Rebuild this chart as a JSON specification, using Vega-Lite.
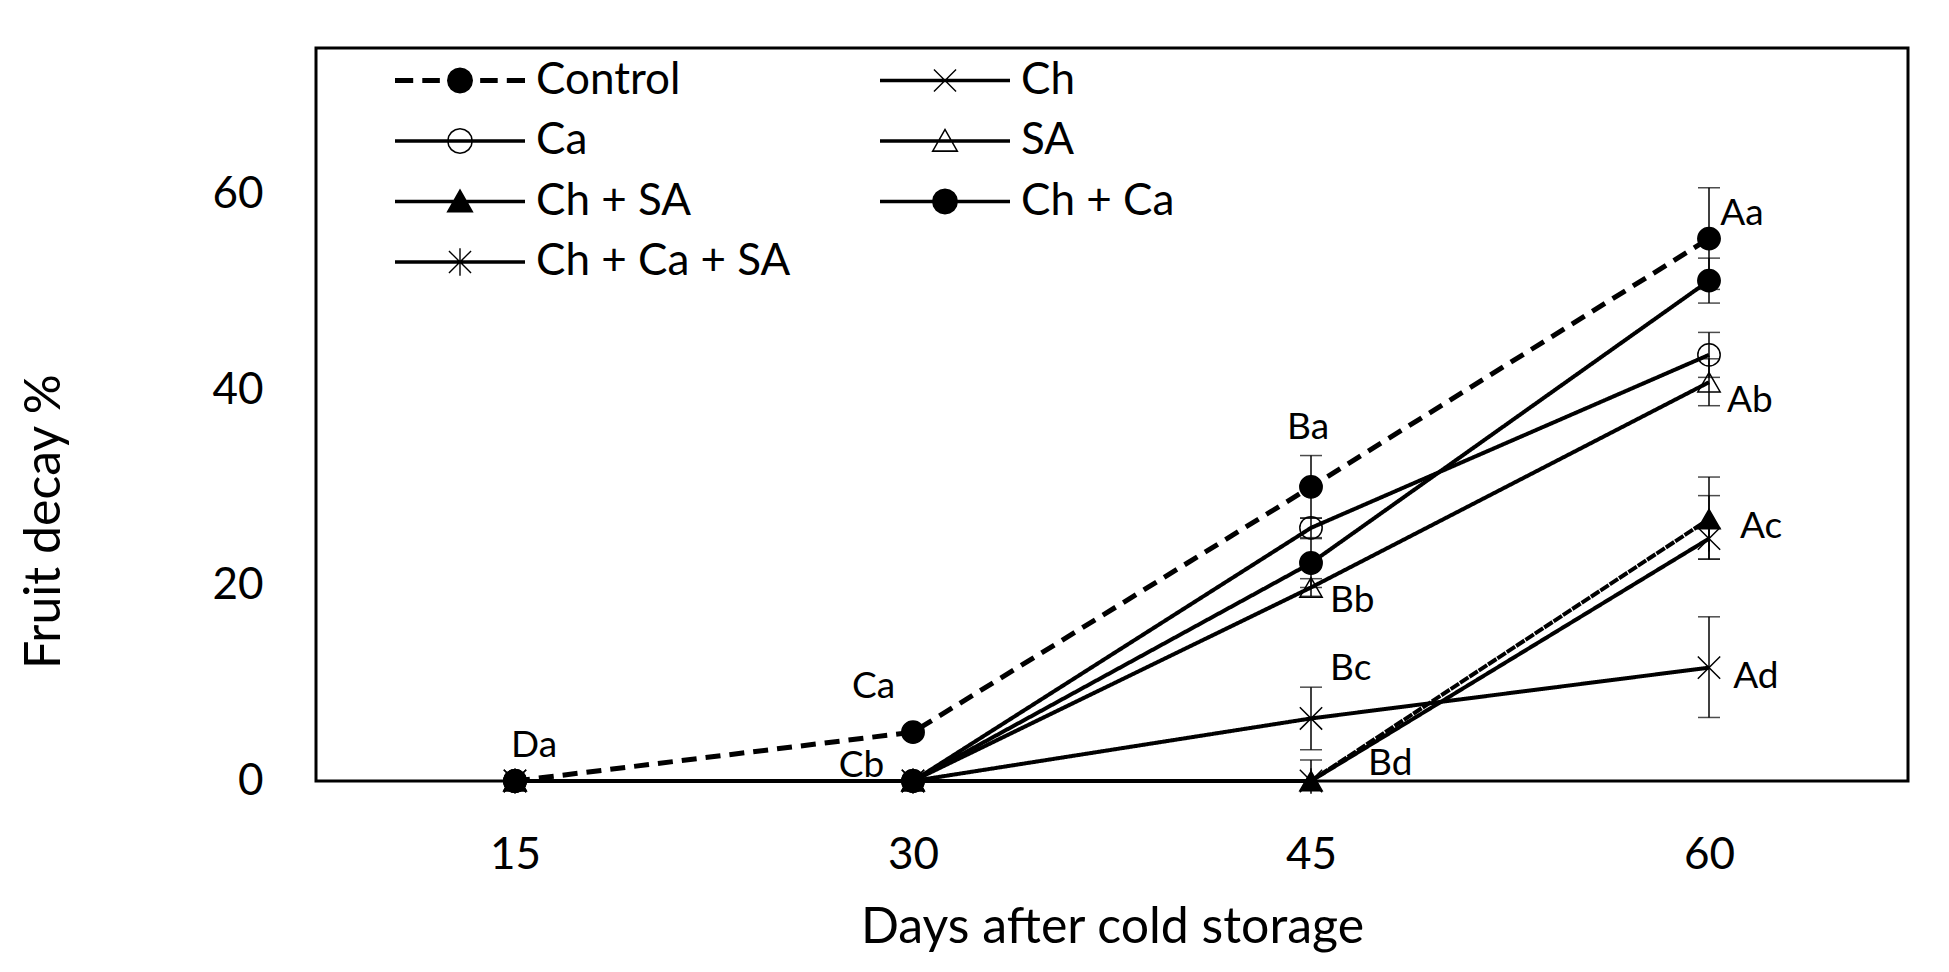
{
  "$schema": "https://vega.github.io/schema/vega-lite/v6.json",
  "width": 1592,
  "height": 733,
  "autosize": {"type": "none"},
  "padding": {"left": 316, "top": 48, "right": 41, "bottom": 191},
  "background": "white",
  "config": {
    "view": {"stroke": "black", "strokeWidth": 3},
    "font": "Lato",
    "axis": {
      "labelFont": "Lato", "titleFont": "Lato", "labelColor": "black", "titleColor": "black",
      "titleFontWeight": "normal", "grid": false, "domain": false, "ticks": false, "tickSize": 0
    }
  },
  "datasets": {
    "decay": [
      {"series": "Control", "day": 15, "value": 0},
      {"series": "Control", "day": 30, "value": 5.0},
      {"series": "Control", "day": 45, "value": 30.1, "lower": 26.9, "upper": 33.3},
      {"series": "Control", "day": 60, "value": 55.5, "lower": 50.3, "upper": 60.7},
      {"series": "Ch", "day": 15, "value": 0},
      {"series": "Ch", "day": 30, "value": 0},
      {"series": "Ch", "day": 45, "value": 6.4, "lower": 3.2, "upper": 9.6},
      {"series": "Ch", "day": 60, "value": 11.6, "lower": 6.5, "upper": 16.8},
      {"series": "Ca", "day": 15, "value": 0},
      {"series": "Ca", "day": 30, "value": 0},
      {"series": "Ca", "day": 45, "value": 25.9, "lower": 24.9, "upper": 26.9},
      {"series": "Ca", "day": 60, "value": 43.6, "lower": 41.3, "upper": 45.9},
      {"series": "SA", "day": 15, "value": 0},
      {"series": "SA", "day": 30, "value": 0},
      {"series": "SA", "day": 45, "value": 19.8, "lower": 18.9, "upper": 20.7},
      {"series": "SA", "day": 60, "value": 40.8, "lower": 38.4, "upper": 43.2},
      {"series": "Ch + SA", "day": 15, "value": 0},
      {"series": "Ch + SA", "day": 30, "value": 0},
      {"series": "Ch + SA", "day": 45, "value": 0, "lower": 0, "upper": 2.15},
      {"series": "Ch + SA", "day": 60, "value": 26.8, "lower": 22.7, "upper": 31.1},
      {"series": "Ch + Ca", "day": 15, "value": 0},
      {"series": "Ch + Ca", "day": 30, "value": 0},
      {"series": "Ch + Ca", "day": 45, "value": 22.3, "lower": 19.8, "upper": 24.8},
      {"series": "Ch + Ca", "day": 60, "value": 51.2, "lower": 48.9, "upper": 53.5},
      {"series": "Ch + Ca + SA", "day": 15, "value": 0},
      {"series": "Ch + Ca + SA", "day": 30, "value": 0},
      {"series": "Ch + Ca + SA", "day": 45, "value": 0},
      {"series": "Ch + Ca + SA", "day": 60, "value": 24.8, "lower": 22.7, "upper": 29.2}
    ],
    "letters": [
      {"label": "Da", "day": 14.85, "value": 2.46},
      {"label": "Ca", "day": 27.7, "value": 8.5},
      {"label": "Cb", "day": 27.2, "value": 0.41},
      {"label": "Ba", "day": 44.1, "value": 35.0},
      {"label": "Bb", "day": 45.72, "value": 17.3},
      {"label": "Bc", "day": 45.72, "value": 10.3},
      {"label": "Bd", "day": 47.15, "value": 0.6},
      {"label": "Aa", "day": 60.42, "value": 56.9},
      {"label": "Ab", "day": 60.68, "value": 37.8},
      {"label": "Ac", "day": 61.17, "value": 24.9},
      {"label": "Ad", "day": 60.91, "value": 9.5}
    ]
  },
  "data": {"name": "decay"},
  "encoding": {
    "x": {
      "field": "day", "type": "quantitative",
      "scale": {"domain": [7.5, 67.5], "nice": false, "zero": false},
      "axis": {
        "title": "Days after cold storage", "values": [15, 30, 45, 60],
        "labelFontSize": 44, "labelPadding": 52, "titleFontSize": 50,
        "titleY": 161, "titleBaseline": "alphabetic"
      }
    },
    "y": {
      "field": "value", "type": "quantitative",
      "scale": {"domain": [0, 75], "nice": false},
      "axis": {
        "title": "Fruit decay %", "values": [0, 20, 40, 60],
        "labelFontSize": 44, "labelPadding": 53, "titleFontSize": 50,
        "titleX": -272, "titleY": 473, "titleAngle": 270,
        "titleBaseline": "middle", "titleAlign": "center"
      }
    }
  },
  "layer": [
    {
      "transform": [{"filter": "isValid(datum.upper)"}],
      "mark": {"type": "rule", "color": "black", "strokeWidth": 1.5},
      "encoding": {
        "y": {"field": "lower", "type": "quantitative", "title": "Fruit decay %"},
        "y2": {"field": "upper"}
      }
    },
    {
      "transform": [
        {"filter": "isValid(datum.upper)"},
        {"fold": ["lower", "upper"], "as": ["end", "bound"]}
      ],
      "mark": {"type": "tick", "orient": "horizontal", "size": 22, "thickness": 1.5, "color": "black"},
      "encoding": {
        "y": {"field": "bound", "type": "quantitative", "title": "Fruit decay %"}
      }
    },
    {
      "transform": [{"filter": "datum.series !== 'Control'"}],
      "mark": {"type": "line", "color": "black", "strokeWidth": 4, "strokeCap": "butt"},
      "encoding": {
        "detail": {"field": "series"},
        "strokeDash": {
          "field": "series", "type": "nominal",
          "scale": {
            "domain": ["Ch", "Ca", "SA", "Ch + SA", "Ch + Ca", "Ch + Ca + SA"],
            "range": [[1, 0], [1, 0], [1, 0], [10, 1.2], [1, 0], [1, 0]]
          },
          "legend": null
        }
      }
    },
    {
      "transform": [{"filter": "datum.series === 'Control'"}],
      "mark": {"type": "line", "color": "black", "strokeWidth": 5, "strokeDash": [15, 9]},
      "encoding": {}
    },
    {
      "mark": {"type": "point", "size": 500, "strokeWidth": 1.5, "stroke": "black", "opacity": 1},
      "encoding": {
        "shape": {
          "field": "series", "type": "nominal",
          "scale": {
            "domain": ["Control", "Ca", "Ch + SA", "Ch + Ca + SA", "Ch", "SA", "Ch + Ca"],
            "range": ["circle", "circle", "triangle-up", "M-1,-1L1,1M-1,1L1,-1M0,-1.15L0,1.15", "M-1,-1L1,1M-1,1L1,-1", "triangle-up", "circle"]
          },
          "legend": null
        },
        "fill": {
          "field": "series", "type": "nominal",
          "scale": {
            "domain": ["Control", "Ca", "Ch + SA", "Ch + Ca + SA", "Ch", "SA", "Ch + Ca"],
            "range": ["black", "transparent", "black", "transparent", "transparent", "transparent", "black"]
          },
          "legend": null
        }
      }
    },
    {
      "transform": [{"filter": "false"}],
      "mark": {"type": "point", "filled": true, "fill": "black", "strokeWidth": 0, "opacity": 1},
      "encoding": {
        "shape": {
          "field": "series", "type": "nominal",
          "scale": {
            "domain": ["Control", "Ca", "Ch + SA", "Ch + Ca + SA", "Ch", "SA", "Ch + Ca"],
            "range": [
              "M-5,-0.19L-3.6,-0.19L-3.6,0.19L-5,0.19ZM-2.9,-0.19L-1.55,-0.19L-1.55,0.19L-2.9,0.19ZM1.55,-0.19L2.9,-0.19L2.9,0.19L1.55,0.19ZM3.6,-0.19L5,-0.19L5,0.19L3.6,0.19ZM1,0L0.924,0.383L0.707,0.707L0.383,0.924L0,1L-0.383,0.924L-0.707,0.707L-0.924,0.383L-1,0L-0.924,-0.383L-0.707,-0.707L-0.383,-0.924L0,-1L0.383,-0.924L0.707,-0.707L0.924,-0.383Z",
              "M-5,-0.13L5,-0.13L5,0.13L-5,0.13ZM1,0L0.924,0.383L0.707,0.707L0.383,0.924L0,1L-0.383,0.924L-0.707,0.707L-0.924,0.383L-1,0L-0.924,-0.383L-0.707,-0.707L-0.383,-0.924L0,-1L0.383,-0.924L0.707,-0.707L0.924,-0.383ZM0.88,0L0.813,-0.337L0.622,-0.622L0.337,-0.813L0,-0.88L-0.337,-0.813L-0.622,-0.622L-0.813,-0.337L-0.88,0L-0.813,0.337L-0.622,0.622L-0.337,0.813L0,0.88L0.337,0.813L0.622,0.622L0.813,0.337Z",
              "M-5,-0.13L5,-0.13L5,0.13L-5,0.13ZM0,-1L1.05,0.84L-1.05,0.84Z",
              "M-5,-0.13L5,-0.13L5,0.13L-5,0.13ZM-0.812,-0.888L0.888,0.812L0.812,0.888L-0.888,-0.812ZM-0.888,0.812L0.812,-0.888L0.888,-0.812L-0.812,0.888ZM-0.054,-1.05L0.054,-1.05L0.054,1.05L-0.054,1.05Z",
              "M-5,-0.13L5,-0.13L5,0.13L-5,0.13ZM-0.812,-0.888L0.888,0.812L0.812,0.888L-0.888,-0.812ZM-0.888,0.812L0.812,-0.888L0.888,-0.812L-0.812,0.888Z",
              "M-5,-0.13L5,-0.13L5,0.13L-5,0.13ZM0,-1L1.05,0.84L-1.05,0.84ZM0,-0.76L-0.843,0.719L0.843,0.719Z",
              "M-5,-0.13L5,-0.13L5,0.13L-5,0.13ZM1,0L0.924,0.383L0.707,0.707L0.383,0.924L0,1L-0.383,0.924L-0.707,0.707L-0.924,0.383L-1,0L-0.924,-0.383L-0.707,-0.707L-0.383,-0.924L0,-1L0.383,-0.924L0.707,-0.707L0.924,-0.383Z"
            ]
          },
          "legend": {
            "title": null, "orient": "none", "legendX": 79, "legendY": 10.5,
            "direction": "vertical", "columns": 2, "padding": 0,
            "symbolSize": 676, "symbolStrokeWidth": 0, "symbolOffset": 43, "symbolOpacity": 1,
            "symbolFillColor": "black",
            "labelOffset": 54, "labelLimit": 500, "rowPadding": 16.5, "columnPadding": 89,
            "labelFont": "Lato", "labelFontSize": 44, "labelColor": "black", "labelBaseline": "middle"
          }
        }
      }
    },
    {
      "data": {"name": "letters"},
      "mark": {"type": "text", "align": "left", "baseline": "alphabetic", "font": "Lato", "fontSize": 37, "color": "black"},
      "encoding": {"text": {"field": "label"}}
    }
  ],
  "resolve": {"scale": {"shape": "independent"}, "legend": {"shape": "independent"}}
}
